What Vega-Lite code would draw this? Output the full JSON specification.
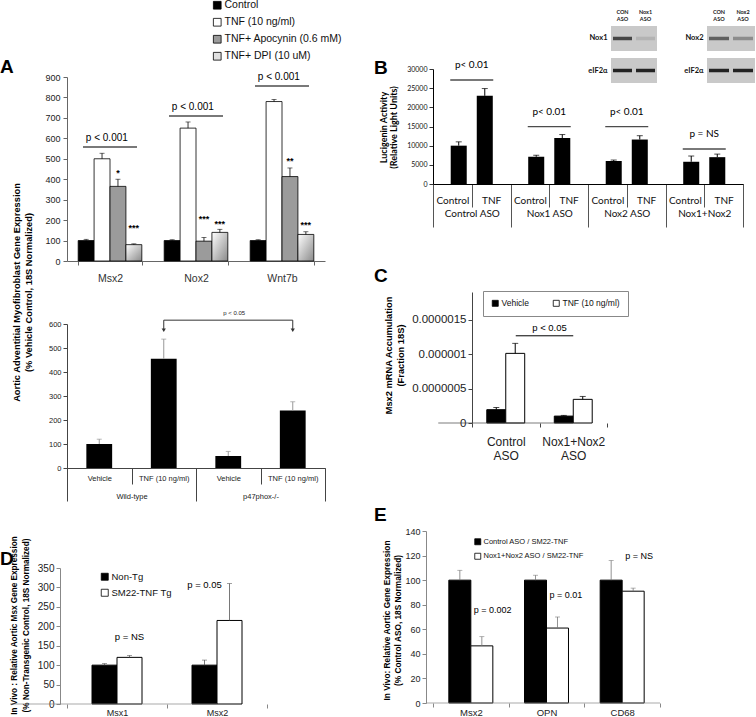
{
  "$schema": "https://vega.github.io/schema/vega-lite/v6.json",
  "padding": 0,
  "background": "white",
  "config": {
    "font": "Liberation Sans",
    "view": {"stroke": null},
    "axis": {"grid": false, "domainColor": "#666", "tickColor": "#666", "labelColor": "#222", "titleColor": "#000", "labelOverlap": false},
    "axisX": {"labelAngle": 0},
    "legend": {"padding": 0, "labelColor": "#111"},
    "title": {"color": "#000"},
    "text": {"color": "#000"}
  },
  "spacing": 31,
  "resolve": {"scale": {"x": "independent", "y": "independent", "xOffset": "independent", "color": "independent", "opacity": "independent"}, "axis": {"x": "independent", "y": "independent"}, "legend": {"color": "independent", "opacity": "independent"}},
  "hconcat": [
    {
      "resolve": {"scale": {"x": "independent", "y": "independent", "xOffset": "independent", "color": "independent", "opacity": "independent"}, "axis": {"x": "independent", "y": "independent"}, "legend": {"color": "independent", "opacity": "independent"}},
      "concat": [
        {"width": 1, "height": 2, "data": {"values": []}, "mark": "point"},
        {
          "resolve": {"scale": {"x": "independent", "y": "independent", "xOffset": "independent", "color": "independent", "opacity": "independent"}, "axis": {"x": "independent", "y": "independent"}, "legend": {"color": "independent", "opacity": "independent"}},
          "concat": [
            {
              "resolve": {"scale": {"x": "independent", "y": "independent", "xOffset": "independent", "color": "independent", "opacity": "independent"}, "axis": {"x": "independent", "y": "independent"}, "legend": {"color": "independent", "opacity": "independent"}},
              "vconcat": [
                {
                  "width": 258,
                  "height": 184,
                  "title": {"text": "A", "anchor": "start", "frame": "group", "dx": -67, "offset": -92, "fontSize": 19, "fontWeight": "bold", "baseline": "alphabetic"},
                  "data": {"values": [
                    {"gene": "Msx2", "trt": "Control", "val": 100, "err": 106},
                    {"gene": "Msx2", "trt": "TNF (10 ng/ml)", "val": 500, "err": 527},
                    {"gene": "Msx2", "trt": "TNF+ Apocynin (0.6 mM)", "val": 365, "err": 400, "sig": "*", "sy": 440},
                    {"gene": "Msx2", "trt": "TNF+ DPI (10 uM)", "val": 80, "err": 84, "sig": "***", "sy": 171},
                    {"gene": "Nox2", "trt": "Control", "val": 100, "err": 104},
                    {"gene": "Nox2", "trt": "TNF (10 ng/ml)", "val": 650, "err": 680},
                    {"gene": "Nox2", "trt": "TNF+ Apocynin (0.6 mM)", "val": 97, "err": 115, "sig": "***", "sy": 215},
                    {"gene": "Nox2", "trt": "TNF+ DPI (10 uM)", "val": 140, "err": 155, "sig": "***", "sy": 191},
                    {"gene": "Wnt7b", "trt": "Control", "val": 100, "err": 104},
                    {"gene": "Wnt7b", "trt": "TNF (10 ng/ml)", "val": 780, "err": 790},
                    {"gene": "Wnt7b", "trt": "TNF+ Apocynin (0.6 mM)", "val": 413, "err": 455, "sig": "**", "sy": 499},
                    {"gene": "Wnt7b", "trt": "TNF+ DPI (10 uM)", "val": 130, "err": 143, "sig": "***", "sy": 186}
                  ]},
                  "layer": [
                    {
                      "transform": [{"filter": "datum.trt !== 'TNF+ DPI (10 uM)'"}],
                      "mark": {"type": "bar", "stroke": "#000", "strokeWidth": 0.8},
                      "encoding": {
                        "x": {"field": "gene", "type": "nominal", "scale": {"domain": ["Msx2", "Nox2", "Wnt7b"], "paddingInner": 0.26, "paddingOuter": 0.13}, "axis": {"title": null, "labelFontSize": 10.5, "labelPadding": 8, "tickBand": "extent", "tickSize": 4, "labelColor": "#333"}},
                        "xOffset": {"field": "trt", "type": "nominal", "scale": {"domain": ["Control", "TNF (10 ng/ml)", "TNF+ Apocynin (0.6 mM)", "TNF+ DPI (10 uM)"], "paddingInner": 0, "paddingOuter": 0}},
                        "y": {"field": "val", "type": "quantitative", "scale": {"domain": [0, 900], "nice": false}, "axis": {"values": [0, 100, 200, 300, 400, 500, 600, 700, 800, 900], "tickCount": 10, "labelOverlap": false, "title": ["Aortic Adventitial Myofibroblast Gene Expression", "(% Vehicle Control, 18S Normalized)"], "titleFontSize": 9.3, "titleFontWeight": "bold", "titleX": -51, "titleY": 215, "titleAngle": -90, "titleAlign": "center", "titleBaseline": "middle", "titleLineHeight": 12, "labelFontSize": 9, "tickSize": 4, "labelPadding": 3}},
                        "color": {"field": "trt", "type": "nominal", "scale": {"domain": ["Control", "TNF (10 ng/ml)", "TNF+ Apocynin (0.6 mM)", "TNF+ DPI (10 uM)"], "range": ["#000000", "#ffffff", "#9b9b9b", "#e0e0e0"]}, "legend": {"orient": "none", "legendX": 145, "legendY": -77, "title": null, "symbolType": "square", "symbolSize": 60, "symbolStrokeColor": "#000", "symbolStrokeWidth": 0.8, "labelFontSize": 10.5, "rowPadding": 5, "labelOffset": 2, "padding": 0}}
                      }
                    },
                    {
                      "transform": [{"filter": "datum.trt === 'TNF+ DPI (10 uM)'"}],
                      "mark": {"type": "bar", "stroke": "#000", "strokeWidth": 0.8, "fill": {"gradient": "linear", "x1": 0, "y1": 0, "x2": 1, "y2": 1, "stops": [{"offset": 0, "color": "#ffffff"}, {"offset": 1, "color": "#8a8a8a"}]}},
                      "encoding": {
                        "x": {"field": "gene", "type": "nominal", "scale": {"domain": ["Msx2", "Nox2", "Wnt7b"], "paddingInner": 0.26, "paddingOuter": 0.13}},
                        "xOffset": {"field": "trt", "type": "nominal", "scale": {"domain": ["Control", "TNF (10 ng/ml)", "TNF+ Apocynin (0.6 mM)", "TNF+ DPI (10 uM)"], "paddingInner": 0, "paddingOuter": 0}},
                        "y": {"field": "val", "type": "quantitative", "scale": {"domain": [0, 900], "nice": false}}
                      }
                    },
                    {
                      "mark": {"type": "rule", "color": "#000", "strokeWidth": 0.8},
                      "encoding": {
                        "x": {"field": "gene", "type": "nominal", "scale": {"domain": ["Msx2", "Nox2", "Wnt7b"], "paddingInner": 0.26, "paddingOuter": 0.13}},
                        "xOffset": {"field": "trt", "type": "nominal", "scale": {"domain": ["Control", "TNF (10 ng/ml)", "TNF+ Apocynin (0.6 mM)", "TNF+ DPI (10 uM)"], "paddingInner": 0, "paddingOuter": 0}},
                        "y": {"field": "val", "type": "quantitative", "scale": {"domain": [0, 900], "nice": false}},
                        "y2": {"field": "err"}
                      }
                    },
                    {
                      "mark": {"type": "tick", "orient": "horizontal", "color": "#000", "thickness": 0.8, "size": 5},
                      "encoding": {
                        "x": {"field": "gene", "type": "nominal", "scale": {"domain": ["Msx2", "Nox2", "Wnt7b"], "paddingInner": 0.26, "paddingOuter": 0.13}},
                        "xOffset": {"field": "trt", "type": "nominal", "scale": {"domain": ["Control", "TNF (10 ng/ml)", "TNF+ Apocynin (0.6 mM)", "TNF+ DPI (10 uM)"], "paddingInner": 0, "paddingOuter": 0}},
                        "y": {"field": "err", "type": "quantitative", "scale": {"domain": [0, 900], "nice": false}}
                      }
                    },
                    {
                      "transform": [{"filter": "datum.sig"}],
                      "mark": {"type": "text", "fontSize": 9, "fontWeight": "bold", "baseline": "middle", "dy": 2},
                      "encoding": {
                        "x": {"field": "gene", "type": "nominal", "scale": {"domain": ["Msx2", "Nox2", "Wnt7b"], "paddingInner": 0.26, "paddingOuter": 0.13}},
                        "xOffset": {"field": "trt", "type": "nominal", "scale": {"domain": ["Control", "TNF (10 ng/ml)", "TNF+ Apocynin (0.6 mM)", "TNF+ DPI (10 uM)"], "paddingInner": 0, "paddingOuter": 0}},
                        "y": {"field": "sy", "type": "quantitative", "scale": {"domain": [0, 900], "nice": false}},
                        "text": {"field": "sig"}
                      }
                    },
                    {
                      "data": {"values": [
                        {"gene": "Msx2", "py": 558, "label": "p < 0.001"},
                        {"gene": "Nox2", "py": 709, "label": "p < 0.001"},
                        {"gene": "Wnt7b", "py": 856, "label": "p < 0.001"}
                      ]},
                      "layer": [
                        {
                          "mark": {"type": "tick", "orient": "horizontal", "size": 54, "thickness": 1.5, "color": "#000"},
                          "encoding": {
                            "x": {"field": "gene", "type": "nominal", "bandPosition": 0.45, "scale": {"domain": ["Msx2", "Nox2", "Wnt7b"], "paddingInner": 0.26, "paddingOuter": 0.13}},
                            "y": {"field": "py", "type": "quantitative", "scale": {"domain": [0, 900], "nice": false}}
                          }
                        },
                        {
                          "mark": {"type": "text", "fontSize": 10, "baseline": "middle", "dy": -9},
                          "encoding": {
                            "x": {"field": "gene", "type": "nominal", "bandPosition": 0.45, "scale": {"domain": ["Msx2", "Nox2", "Wnt7b"], "paddingInner": 0.26, "paddingOuter": 0.13}},
                            "y": {"field": "py", "type": "quantitative", "scale": {"domain": [0, 900], "nice": false}},
                            "text": {"field": "label"}
                          }
                        }
                      ]
                    }
                  ]
                },
                {
                  "width": 258,
                  "height": 144,
                  "data": {"values": [
                    {"id": "Vehicle|Wild-type", "geno": "Wild-type", "val": 100, "err": 120},
                    {"id": "TNF (10 ng/ml)|Wild-type", "geno": "Wild-type", "val": 455, "err": 537},
                    {"id": "Vehicle|p47phox-/-", "geno": "p47phox-/-", "val": 50, "err": 69},
                    {"id": "TNF (10 ng/ml)|p47phox-/-", "geno": "p47phox-/-", "val": 240, "err": 276}
                  ]},
                  "layer": [
                    {
                      "layer": [
                        {
                          "mark": {"type": "bar", "color": "#000", "width": {"band": 0.4}},
                          "encoding": {
                            "x": {"field": "id", "type": "nominal", "scale": {"domain": ["Vehicle|Wild-type", "TNF (10 ng/ml)|Wild-type", "Vehicle|p47phox-/-", "TNF (10 ng/ml)|p47phox-/-"], "paddingInner": 0, "paddingOuter": 0}, "axis": {"title": null, "orient": "bottom", "labelExpr": "split(datum.label,'|')[0]", "labelFontSize": 7.5, "tickBand": "extent", "tickSize": 16, "labelPadding": -10, "domainColor": "#444", "tickColor": "#444"}},
                            "y": {"field": "val", "type": "quantitative", "scale": {"domain": [0, 600], "nice": false}, "axis": {"values": [0, 100, 200, 300, 400, 500, 600], "tickCount": 7, "labelOverlap": false, "title": null, "labelFontSize": 7.5, "tickSize": 4, "domainColor": "#444", "tickColor": "#444"}}
                          }
                        },
                        {
                          "mark": {"type": "rule", "color": "#999", "strokeWidth": 1},
                          "encoding": {
                            "x": {"field": "id", "type": "nominal", "scale": {"domain": ["Vehicle|Wild-type", "TNF (10 ng/ml)|Wild-type", "Vehicle|p47phox-/-", "TNF (10 ng/ml)|p47phox-/-"], "paddingInner": 0, "paddingOuter": 0}},
                            "y": {"field": "val", "type": "quantitative", "scale": {"domain": [0, 600], "nice": false}},
                            "y2": {"field": "err"}
                          }
                        },
                        {
                          "mark": {"type": "tick", "orient": "horizontal", "color": "#999", "thickness": 1, "size": 5},
                          "encoding": {
                            "x": {"field": "id", "type": "nominal", "scale": {"domain": ["Vehicle|Wild-type", "TNF (10 ng/ml)|Wild-type", "Vehicle|p47phox-/-", "TNF (10 ng/ml)|p47phox-/-"], "paddingInner": 0, "paddingOuter": 0}},
                            "y": {"field": "err", "type": "quantitative", "scale": {"domain": [0, 600], "nice": false}}
                          }
                        },
                        {
                          "data": {"values": [{"a": "TNF (10 ng/ml)|Wild-type", "b": "TNF (10 ng/ml)|p47phox-/-", "mid": "Vehicle|p47phox-/-", "top": 616, "tip": 574, "label": "p < 0.05"}]},
                          "layer": [
                            {
                              "mark": {"type": "rule", "color": "#333", "strokeWidth": 1},
                              "encoding": {
                                "x": {"field": "a", "type": "nominal", "scale": {"domain": ["Vehicle|Wild-type", "TNF (10 ng/ml)|Wild-type", "Vehicle|p47phox-/-", "TNF (10 ng/ml)|p47phox-/-"], "paddingInner": 0, "paddingOuter": 0}},
                                "x2": {"field": "b"},
                                "y": {"field": "top", "type": "quantitative", "scale": {"domain": [0, 600], "nice": false}}
                              }
                            },
                            {
                              "transform": [{"fold": ["a", "b"], "as": ["end", "eid"]}],
                              "mark": {"type": "rule", "color": "#333", "strokeWidth": 1},
                              "encoding": {
                                "x": {"field": "eid", "type": "nominal", "scale": {"domain": ["Vehicle|Wild-type", "TNF (10 ng/ml)|Wild-type", "Vehicle|p47phox-/-", "TNF (10 ng/ml)|p47phox-/-"], "paddingInner": 0, "paddingOuter": 0}},
                                "y": {"field": "top", "type": "quantitative", "scale": {"domain": [0, 600], "nice": false}},
                                "y2": {"field": "tip"}
                              }
                            },
                            {
                              "transform": [{"fold": ["a", "b"], "as": ["end", "eid"]}],
                              "mark": {"type": "point", "shape": "triangle-down", "filled": true, "color": "#333", "size": 18, "opacity": 1},
                              "encoding": {
                                "x": {"field": "eid", "type": "nominal", "scale": {"domain": ["Vehicle|Wild-type", "TNF (10 ng/ml)|Wild-type", "Vehicle|p47phox-/-", "TNF (10 ng/ml)|p47phox-/-"], "paddingInner": 0, "paddingOuter": 0}},
                                "y": {"field": "tip", "type": "quantitative", "scale": {"domain": [0, 600], "nice": false}}
                              }
                            },
                            {
                              "mark": {"type": "text", "fontSize": 6, "baseline": "middle", "dy": -7, "dx": 6, "color": "#222"},
                              "encoding": {
                                "x": {"field": "mid", "type": "nominal", "scale": {"domain": ["Vehicle|Wild-type", "TNF (10 ng/ml)|Wild-type", "Vehicle|p47phox-/-", "TNF (10 ng/ml)|p47phox-/-"], "paddingInner": 0, "paddingOuter": 0}},
                                "y": {"field": "top", "type": "quantitative", "scale": {"domain": [0, 600], "nice": false}},
                                "text": {"field": "label"}
                              }
                            }
                          ]
                        }
                      ]
                    },
                    {
                      "mark": {"type": "point", "opacity": 0},
                      "encoding": {
                        "x": {"field": "geno", "type": "nominal", "scale": {"domain": ["Wild-type", "p47phox-/-"], "paddingInner": 0, "paddingOuter": 0}, "axis": {"title": null, "orient": "bottom", "domain": false, "labelFontSize": 7.5, "tickBand": "extent", "tickSize": 33, "labelPadding": -9, "tickColor": "#444"}},
                        "y": {"field": "val", "type": "quantitative", "scale": {"domain": [0, 600], "nice": false}}
                      }
                    }
                  ],
                  "resolve": {"scale": {"x": "independent"}, "axis": {"x": "independent"}}
                }
              ],
              "bounds": "flush",
              "spacing": 63
            },
            {
              "width": 200,
              "height": 136,
              "title": {"text": "D", "anchor": "start", "frame": "group", "dx": -67, "offset": -48, "fontSize": 19, "fontWeight": "bold", "baseline": "alphabetic"},
              "data": {"values": [
                {"gene": "Msx1", "grp": "Non-Tg", "val": 100, "err": 104},
                {"gene": "Msx1", "grp": "SM22-TNF Tg", "val": 120, "err": 125},
                {"gene": "Msx2", "grp": "Non-Tg", "val": 100, "err": 113},
                {"gene": "Msx2", "grp": "SM22-TNF Tg", "val": 215, "err": 310}
              ]},
              "layer": [
                {
                  "mark": {"type": "bar", "stroke": "#000", "strokeWidth": 1},
                  "encoding": {
                    "x": {"field": "gene", "type": "nominal", "scale": {"domain": ["Msx1", "Msx2"], "paddingInner": 0, "paddingOuter": 0}, "axis": {"title": null, "domain": false, "labelFontSize": 9, "tickBand": "extent", "tickSize": 4, "labelPadding": 0, "tickColor": "#888"}},
                    "xOffset": {"field": "grp", "type": "nominal", "scale": {"domain": ["Non-Tg", "SM22-TNF Tg"], "paddingInner": 0, "paddingOuter": 1}},
                    "y": {"field": "val", "type": "quantitative", "scale": {"domain": [0, 350], "nice": false}, "axis": {"values": [0, 50, 100, 150, 200, 250, 300, 350], "tickCount": 8, "labelOverlap": false, "offset": 7, "title": ["In Vivo : Relative Aortic Msx Gene Expression", "(% Non-Transgenic Control, 18S Normalized)"], "titleFontSize": 8.2, "titleFontWeight": "bold", "titleX": -46, "titleY": 57, "titleAngle": -90, "titleAlign": "center", "titleBaseline": "middle", "titleLineHeight": 12, "labelFontSize": 10, "tickSize": 4, "domainColor": "#888", "tickColor": "#888"}},
                    "color": {"field": "grp", "type": "nominal", "scale": {"domain": ["Non-Tg", "SM22-TNF Tg"], "range": ["#000000", "#ffffff"]}, "legend": {"orient": "none", "legendX": 33, "legendY": 4, "title": null, "symbolType": "square", "symbolSize": 49, "symbolStrokeColor": "#000", "symbolStrokeWidth": 0.8, "labelFontSize": 9.5, "rowPadding": 5, "labelOffset": 2, "padding": 0}}
                  }
                },
                {
                  "mark": {"type": "rule", "color": "#555", "strokeWidth": 0.8},
                  "encoding": {
                    "x": {"field": "gene", "type": "nominal", "scale": {"domain": ["Msx1", "Msx2"], "paddingInner": 0, "paddingOuter": 0}},
                    "xOffset": {"field": "grp", "type": "nominal", "scale": {"domain": ["Non-Tg", "SM22-TNF Tg"], "paddingInner": 0, "paddingOuter": 1}},
                    "y": {"field": "val", "type": "quantitative", "scale": {"domain": [0, 350], "nice": false}},
                    "y2": {"field": "err"}
                  }
                },
                {
                  "mark": {"type": "tick", "orient": "horizontal", "color": "#555", "thickness": 0.8, "size": 5},
                  "encoding": {
                    "x": {"field": "gene", "type": "nominal", "scale": {"domain": ["Msx1", "Msx2"], "paddingInner": 0, "paddingOuter": 0}},
                    "xOffset": {"field": "grp", "type": "nominal", "scale": {"domain": ["Non-Tg", "SM22-TNF Tg"], "paddingInner": 0, "paddingOuter": 1}},
                    "y": {"field": "err", "type": "quantitative", "scale": {"domain": [0, 350], "nice": false}}
                  }
                },
                {
                  "data": {"values": [{"gene": "Msx1", "base": 0}]},
                  "mark": {"type": "tick", "orient": "horizontal", "color": "#888", "thickness": 1, "size": 207, "xOffset": -3.5},
                  "encoding": {
                    "x": {"field": "gene", "type": "nominal", "bandPosition": 1, "scale": {"domain": ["Msx1", "Msx2"], "paddingInner": 0, "paddingOuter": 0}},
                    "y": {"field": "base", "type": "quantitative", "scale": {"domain": [0, 350], "nice": false}}
                  }
                },
                {
                  "data": {"values": [
                    {"gene": "Msx1", "grp": "SM22-TNF Tg", "label": "p =  NS", "ty": 172},
                    {"gene": "Msx2", "grp": "Non-Tg", "label": "p =  0.05", "ty": 306}
                  ]},
                  "mark": {"type": "text", "fontSize": 9.5, "baseline": "middle"},
                  "encoding": {
                    "x": {"field": "gene", "type": "nominal", "scale": {"domain": ["Msx1", "Msx2"], "paddingInner": 0, "paddingOuter": 0}},
                    "xOffset": {"field": "grp", "type": "nominal", "scale": {"domain": ["Non-Tg", "SM22-TNF Tg"], "paddingInner": 0, "paddingOuter": 1}},
                    "y": {"field": "ty", "type": "quantitative", "scale": {"domain": [0, 350], "nice": false}},
                    "text": {"field": "label"}
                  }
                }
              ]
            }
          ],
          "columns": 1,
          "spacing": 33
        }
      ],
      "columns": 1,
      "spacing": -28
    },
    {
      "resolve": {"scale": {"x": "independent", "y": "independent", "xOffset": "independent", "color": "independent", "opacity": "independent"}, "axis": {"x": "independent", "y": "independent"}, "legend": {"color": "independent", "opacity": "independent"}},
      "concat": [
        {
          "resolve": {"scale": {"x": "independent", "y": "independent", "xOffset": "independent", "color": "independent", "opacity": "independent"}, "axis": {"x": "independent", "y": "independent"}, "legend": {"color": "independent", "opacity": "independent"}},
          "concat": [
            {
              "resolve": {"scale": {"x": "independent", "y": "independent", "xOffset": "independent", "color": "independent", "opacity": "independent"}, "axis": {"x": "independent", "y": "independent"}, "legend": {"color": "independent", "opacity": "independent"}},
              "hconcat": [
                {"width": 128, "height": 57, "data": {"values": []}, "mark": "point"},
                {
                  "width": 46,
                  "height": 57,
                  "data": {"values": [
                    {"lane": "CON|ASO", "prot": "Nox1", "signal": 0.75},
                    {"lane": "Nox1|ASO", "prot": "Nox1", "signal": 0.12},
                    {"lane": "CON|ASO", "prot": "eIF2α", "signal": 0.95},
                    {"lane": "Nox1|ASO", "prot": "eIF2α", "signal": 0.95}
                  ]},
                  "layer": [
                    {
                      "mark": {"type": "rect", "color": "#c9c9c9"},
                      "encoding": {
                        "y": {"field": "prot", "type": "nominal", "scale": {"domain": ["Nox1", "eIF2α"], "paddingInner": 0.22, "paddingOuter": 0}, "axis": {"title": null, "domain": false, "ticks": false, "labelFont": "Lato", "labelFontWeight": "bold", "labelFontSize": 7.5, "labelPadding": 4, "labelColor": "#111"}}
                      }
                    },
                    {
                      "mark": {"type": "tick", "orient": "horizontal", "color": "#1a1a1a", "thickness": 3.5, "size": 19},
                      "encoding": {
                        "x": {"field": "lane", "type": "nominal", "scale": {"domain": ["CON|ASO", "Nox1|ASO"], "paddingInner": 0, "paddingOuter": 0}, "axis": {"orient": "top", "title": null, "domain": false, "ticks": false, "labelExpr": "split(datum.label,'|')", "labelFont": "Lato", "labelFontWeight": "bold", "labelFontSize": 5.5, "labelLineHeight": 7, "labelBaseline": "bottom", "labelPadding": 12, "labelColor": "#222"}},
                        "y": {"field": "prot", "type": "nominal", "scale": {"domain": ["Nox1", "eIF2α"], "paddingInner": 0.22, "paddingOuter": 0}},
                        "opacity": {"field": "signal", "type": "quantitative", "scale": {"domain": [0, 1], "range": [0, 1]}, "legend": null}
                      }
                    }
                  ]
                },
                {
                  "width": 48,
                  "height": 57,
                  "data": {"values": [
                    {"lane": "CON|ASO", "prot": "Nox2", "signal": 0.6},
                    {"lane": "Nox2|ASO", "prot": "Nox2", "signal": 0.35},
                    {"lane": "CON|ASO", "prot": "eIF2α", "signal": 0.95},
                    {"lane": "Nox2|ASO", "prot": "eIF2α", "signal": 0.95}
                  ]},
                  "layer": [
                    {
                      "mark": {"type": "rect", "color": "#c9c9c9"},
                      "encoding": {
                        "y": {"field": "prot", "type": "nominal", "scale": {"domain": ["Nox2", "eIF2α"], "paddingInner": 0.22, "paddingOuter": 0}, "axis": {"title": null, "domain": false, "ticks": false, "labelFont": "Lato", "labelFontWeight": "bold", "labelFontSize": 7.5, "labelPadding": 4, "labelColor": "#111"}}
                      }
                    },
                    {
                      "mark": {"type": "tick", "orient": "horizontal", "color": "#1a1a1a", "thickness": 3.5, "size": 20},
                      "encoding": {
                        "x": {"field": "lane", "type": "nominal", "scale": {"domain": ["CON|ASO", "Nox2|ASO"], "paddingInner": 0, "paddingOuter": 0}, "axis": {"orient": "top", "title": null, "domain": false, "ticks": false, "labelExpr": "split(datum.label,'|')", "labelFont": "Lato", "labelFontWeight": "bold", "labelFontSize": 5.5, "labelLineHeight": 7, "labelBaseline": "bottom", "labelPadding": 12, "labelColor": "#222"}},
                        "y": {"field": "prot", "type": "nominal", "scale": {"domain": ["Nox2", "eIF2α"], "paddingInner": 0.22, "paddingOuter": 0}},
                        "opacity": {"field": "signal", "type": "quantitative", "scale": {"domain": [0, 1], "range": [0, 1]}, "legend": null}
                      }
                    }
                  ]
                }
              ],
              "spacing": 26
            },
            {
              "width": 310,
              "height": 115,
              "title": {"text": "B", "anchor": "start", "frame": "group", "dx": -59, "offset": -33, "fontSize": 19, "fontWeight": "bold", "baseline": "alphabetic"},
              "data": {"values": [
                {"grp": "Control ASO", "trt": "Control", "cell": "Control ASO|Control", "val": 10000, "err": 11000},
                {"grp": "Control ASO", "trt": "TNF", "cell": "Control ASO|TNF", "val": 23000, "err": 24900},
                {"grp": "Nox1 ASO", "trt": "Control", "cell": "Nox1 ASO|Control", "val": 7100, "err": 7500},
                {"grp": "Nox1 ASO", "trt": "TNF", "cell": "Nox1 ASO|TNF", "val": 12000, "err": 12900},
                {"grp": "Nox2 ASO", "trt": "Control", "cell": "Nox2 ASO|Control", "val": 6000, "err": 6250},
                {"grp": "Nox2 ASO", "trt": "TNF", "cell": "Nox2 ASO|TNF", "val": 11600, "err": 12600},
                {"grp": "Nox1+Nox2", "trt": "Control", "cell": "Nox1+Nox2|Control", "val": 5800, "err": 7300},
                {"grp": "Nox1+Nox2", "trt": "TNF", "cell": "Nox1+Nox2|TNF", "val": 7000, "err": 7800}
              ]},
              "layer": [
                {
                  "layer": [
                    {
                      "mark": {"type": "bar", "color": "#000"},
                      "encoding": {
                        "x": {"field": "grp", "type": "nominal", "scale": {"domain": ["Control ASO", "Nox1 ASO", "Nox2 ASO", "Nox1+Nox2"], "paddingInner": 0, "paddingOuter": 0}, "axis": {"title": null, "orient": "bottom", "domain": false, "labelFont": "Lato", "labelFontSize": 10, "labelColor": "#111", "tickBand": "extent", "tickSize": 43, "tickColor": "#555", "labelPadding": -19}},
                        "xOffset": {"field": "trt", "type": "nominal", "scale": {"domain": ["Control", "TNF"], "paddingInner": 0.385, "paddingOuter": 0.68}},
                        "y": {"field": "val", "type": "quantitative", "scale": {"domain": [0, 30000], "nice": false}, "axis": {"values": [0, 5000, 10000, 15000, 20000, 25000, 30000], "tickCount": 7, "labelOverlap": false, "format": "d", "title": ["Lucigenin Activity", "(Relative Light Units)"], "titleFont": "Lato", "titleFontSize": 9, "titleFontWeight": "bold", "titleX": -50, "titleY": 58, "titleAngle": -90, "titleAlign": "center", "titleBaseline": "middle", "titleLineHeight": 10, "labelFont": "Lato", "labelFontSize": 7, "tickSize": 4, "domainColor": "#000", "tickColor": "#333", "labelColor": "#111"}}
                      }
                    },
                    {
                      "mark": {"type": "rule", "color": "#000", "strokeWidth": 1},
                      "encoding": {
                        "x": {"field": "grp", "type": "nominal", "scale": {"domain": ["Control ASO", "Nox1 ASO", "Nox2 ASO", "Nox1+Nox2"], "paddingInner": 0, "paddingOuter": 0}},
                        "xOffset": {"field": "trt", "type": "nominal", "scale": {"domain": ["Control", "TNF"], "paddingInner": 0.385, "paddingOuter": 0.68}},
                        "y": {"field": "val", "type": "quantitative", "scale": {"domain": [0, 30000], "nice": false}},
                        "y2": {"field": "err"}
                      }
                    },
                    {
                      "mark": {"type": "tick", "orient": "horizontal", "color": "#000", "thickness": 1, "size": 6},
                      "encoding": {
                        "x": {"field": "grp", "type": "nominal", "scale": {"domain": ["Control ASO", "Nox1 ASO", "Nox2 ASO", "Nox1+Nox2"], "paddingInner": 0, "paddingOuter": 0}},
                        "xOffset": {"field": "trt", "type": "nominal", "scale": {"domain": ["Control", "TNF"], "paddingInner": 0.385, "paddingOuter": 0.68}},
                        "y": {"field": "err", "type": "quantitative", "scale": {"domain": [0, 30000], "nice": false}}
                      }
                    },
                    {
                      "data": {"values": [
                        {"grp": "Control ASO", "py": 27130, "label": "p< 0.01"},
                        {"grp": "Nox1 ASO", "py": 14960, "label": "p< 0.01"},
                        {"grp": "Nox2 ASO", "py": 14960, "label": "p< 0.01"},
                        {"grp": "Nox1+Nox2", "py": 9130, "label": "p = NS"}
                      ]},
                      "layer": [
                        {
                          "mark": {"type": "tick", "orient": "horizontal", "size": 43, "thickness": 1.3, "color": "#000"},
                          "encoding": {
                            "x": {"field": "grp", "type": "nominal", "scale": {"domain": ["Control ASO", "Nox1 ASO", "Nox2 ASO", "Nox1+Nox2"], "paddingInner": 0, "paddingOuter": 0}},
                            "y": {"field": "py", "type": "quantitative", "scale": {"domain": [0, 30000], "nice": false}}
                          }
                        },
                        {
                          "mark": {"type": "text", "font": "Lato", "fontSize": 10, "baseline": "middle", "dy": -15},
                          "encoding": {
                            "x": {"field": "grp", "type": "nominal", "scale": {"domain": ["Control ASO", "Nox1 ASO", "Nox2 ASO", "Nox1+Nox2"], "paddingInner": 0, "paddingOuter": 0}},
                            "y": {"field": "py", "type": "quantitative", "scale": {"domain": [0, 30000], "nice": false}},
                            "text": {"field": "label"}
                          }
                        }
                      ]
                    }
                  ]
                },
                {
                  "mark": {"type": "point", "opacity": 0},
                  "encoding": {
                    "x": {"field": "cell", "type": "nominal", "scale": {"domain": ["Control ASO|Control", "Control ASO|TNF", "Nox1 ASO|Control", "Nox1 ASO|TNF", "Nox2 ASO|Control", "Nox2 ASO|TNF", "Nox1+Nox2|Control", "Nox1+Nox2|TNF"], "paddingInner": 0, "paddingOuter": 0}, "axis": {"title": null, "orient": "bottom", "labelExpr": "split(datum.label,'|')[1]", "labelFont": "Lato", "labelFontSize": 10, "labelColor": "#111", "tickBand": "extent", "tickSize": 23, "labelPadding": -12, "domainColor": "#000", "tickColor": "#555"}},
                    "y": {"field": "val", "type": "quantitative", "scale": {"domain": [0, 30000], "nice": false}}
                  }
                }
              ],
              "resolve": {"scale": {"x": "independent"}, "axis": {"x": "independent"}}
            }
          ],
          "columns": 1,
          "align": "none",
          "spacing": -24
        },
        {
          "resolve": {"scale": {"x": "independent", "y": "independent", "xOffset": "independent", "color": "independent", "opacity": "independent"}, "axis": {"x": "independent", "y": "independent"}, "legend": {"color": "independent", "opacity": "independent"}},
          "concat": [
            {
              "width": 174,
              "height": 131,
              "title": {"text": "C", "anchor": "start", "frame": "group", "dx": -59, "offset": -10, "fontSize": 19, "fontWeight": "bold", "baseline": "alphabetic"},
              "data": {"values": [
                {"grp": "Control ASO", "trt": "Vehicle", "val": 1.93e-7, "err": 2.25e-7},
                {"grp": "Control ASO", "trt": "TNF (10 ng/ml)", "val": 1.01e-6, "err": 1.155e-6},
                {"grp": "Nox1+Nox2 ASO", "trt": "Vehicle", "val": 1.0e-7, "err": 1.1e-7},
                {"grp": "Nox1+Nox2 ASO", "trt": "TNF (10 ng/ml)", "val": 3.43e-7, "err": 3.85e-7}
              ]},
              "layer": [
                {
                  "mark": {"type": "bar", "stroke": "#000", "strokeWidth": 1},
                  "encoding": {
                    "x": {"field": "grp", "type": "nominal", "scale": {"domain": ["Control ASO", "Nox1+Nox2 ASO"], "paddingInner": 0, "paddingOuter": 0.2889, "align": 1}, "axis": {"title": null, "domain": false, "labelExpr": "split(datum.label,' ')", "labelFontSize": 12, "labelLineHeight": 14, "tickBand": "extent", "tickSize": 4, "labelPadding": 9, "tickColor": "#444"}},
                    "xOffset": {"field": "trt", "type": "nominal", "scale": {"domain": ["Vehicle", "TNF (10 ng/ml)"], "paddingInner": 0, "paddingOuter": 0.78}},
                    "y": {"field": "val", "type": "quantitative", "scale": {"domain": [0, 1.9e-6], "nice": false, "zero": true}, "axis": {"values": [0, 5e-7, 1e-6, 1.5e-6], "tickCount": 4, "labelOverlap": false, "offset": -39, "format": ".7~f", "title": ["Msx2 mRNA Accumulation", "(Fraction 18S)"], "titleFontSize": 9.3, "titleFontWeight": "bold", "titleX": -84, "titleY": 63, "titleAngle": -90, "titleAlign": "center", "titleBaseline": "middle", "titleLineHeight": 12.5, "labelFontSize": 11.5, "tickSize": 4, "domainColor": "#444", "tickColor": "#444"}},
                    "color": {"field": "trt", "type": "nominal", "scale": {"domain": ["Vehicle", "TNF (10 ng/ml)"], "range": ["#000000", "#ffffff"]}, "legend": {"orient": "none", "direction": "horizontal", "legendX": 50, "legendY": -1, "title": null, "symbolType": "square", "symbolSize": 36, "symbolStrokeColor": "#000", "symbolStrokeWidth": 0.8, "labelFontSize": 8.5, "strokeColor": "#888", "padding": 8, "columnPadding": 22, "labelOffset": 2}}
                  }
                },
                {
                  "mark": {"type": "rule", "color": "#000", "strokeWidth": 1},
                  "encoding": {
                    "x": {"field": "grp", "type": "nominal", "scale": {"domain": ["Control ASO", "Nox1+Nox2 ASO"], "paddingInner": 0, "paddingOuter": 0.2889, "align": 1}},
                    "xOffset": {"field": "trt", "type": "nominal", "scale": {"domain": ["Vehicle", "TNF (10 ng/ml)"], "paddingInner": 0, "paddingOuter": 0.78}},
                    "y": {"field": "val", "type": "quantitative", "scale": {"domain": [0, 1.9e-6], "nice": false}},
                    "y2": {"field": "err"}
                  }
                },
                {
                  "mark": {"type": "tick", "orient": "horizontal", "color": "#000", "thickness": 1, "size": 6},
                  "encoding": {
                    "x": {"field": "grp", "type": "nominal", "scale": {"domain": ["Control ASO", "Nox1+Nox2 ASO"], "paddingInner": 0, "paddingOuter": 0.2889, "align": 1}},
                    "xOffset": {"field": "trt", "type": "nominal", "scale": {"domain": ["Vehicle", "TNF (10 ng/ml)"], "paddingInner": 0, "paddingOuter": 0.78}},
                    "y": {"field": "err", "type": "quantitative", "scale": {"domain": [0, 1.9e-6], "nice": false}}
                  }
                },
                {
                  "data": {"values": [{"grp": "Control ASO", "base": 0}]},
                  "mark": {"type": "tick", "orient": "horizontal", "color": "#444", "thickness": 1, "size": 135},
                  "encoding": {
                    "x": {"field": "grp", "type": "nominal", "bandPosition": 1, "scale": {"domain": ["Control ASO", "Nox1+Nox2 ASO"], "paddingInner": 0, "paddingOuter": 0.2889, "align": 1}},
                    "y": {"field": "base", "type": "quantitative", "scale": {"domain": [0, 1.9e-6], "nice": false}}
                  }
                },
                {
                  "data": {"values": [{"from": "Control ASO", "to": "Nox1+Nox2 ASO", "py": 1.265e-6, "label": "p < 0.05"}]},
                  "layer": [
                    {
                      "mark": {"type": "rule", "color": "#000", "strokeWidth": 1, "xOffset": 10},
                      "encoding": {
                        "x": {"field": "from", "type": "nominal", "scale": {"domain": ["Control ASO", "Nox1+Nox2 ASO"], "paddingInner": 0, "paddingOuter": 0.2889, "align": 1}},
                        "x2": {"field": "to"},
                        "y": {"field": "py", "type": "quantitative", "scale": {"domain": [0, 1.9e-6], "nice": false}}
                      }
                    },
                    {
                      "mark": {"type": "text", "fontSize": 9.5, "baseline": "middle", "dy": -8, "dx": 10},
                      "encoding": {
                        "x": {"field": "from", "type": "nominal", "bandPosition": 1, "scale": {"domain": ["Control ASO", "Nox1+Nox2 ASO"], "paddingInner": 0, "paddingOuter": 0.2889, "align": 1}},
                        "y": {"field": "py", "type": "quantitative", "scale": {"domain": [0, 1.9e-6], "nice": false}},
                        "text": {"field": "label"}
                      }
                    }
                  ]
                }
              ]
            },
            {
              "width": 227,
              "height": 172,
              "title": {"text": "E", "anchor": "start", "frame": "group", "dx": -59, "offset": -12.5, "fontSize": 19, "fontWeight": "bold", "baseline": "alphabetic"},
              "data": {"values": [
                {"gene": "Msx2", "grp": "Control ASO / SM22-TNF", "val": 100, "err": 108},
                {"gene": "Msx2", "grp": "Nox1+Nox2 ASO / SM22-TNF", "val": 46.5, "err": 54},
                {"gene": "OPN", "grp": "Control ASO / SM22-TNF", "val": 100, "err": 104},
                {"gene": "OPN", "grp": "Nox1+Nox2 ASO / SM22-TNF", "val": 61, "err": 70},
                {"gene": "CD68", "grp": "Control ASO / SM22-TNF", "val": 100, "err": 116},
                {"gene": "CD68", "grp": "Nox1+Nox2 ASO / SM22-TNF", "val": 91, "err": 93.5}
              ]},
              "layer": [
                {
                  "mark": {"type": "bar", "stroke": "#000", "strokeWidth": 1},
                  "encoding": {
                    "x": {"field": "gene", "type": "nominal", "scale": {"domain": ["Msx2", "OPN", "CD68"], "paddingInner": 0, "paddingOuter": 0}, "axis": {"title": null, "domain": false, "labelFontSize": 9.5, "tickBand": "extent", "tickSize": 4, "labelPadding": 0, "tickColor": "#888"}},
                    "xOffset": {"field": "grp", "type": "nominal", "scale": {"domain": ["Control ASO / SM22-TNF", "Nox1+Nox2 ASO / SM22-TNF"], "paddingInner": 0, "paddingOuter": 0.72}},
                    "y": {"field": "val", "type": "quantitative", "scale": {"domain": [0, 140], "nice": false}, "axis": {"values": [0, 20, 40, 60, 80, 100, 120, 140], "tickCount": 8, "labelOverlap": false, "offset": 7, "title": ["In Vivo: Relative Aortic Gene Expression", "(% Control ASO, 18S Normalized)"], "titleFontSize": 8.3, "titleFontWeight": "bold", "titleX": -39, "titleY": 89, "titleAngle": -90, "titleAlign": "center", "titleBaseline": "middle", "titleLineHeight": 11, "labelFontSize": 9, "tickSize": 4, "domainColor": "#888", "tickColor": "#888"}},
                    "color": {"field": "grp", "type": "nominal", "scale": {"domain": ["Control ASO / SM22-TNF", "Nox1+Nox2 ASO / SM22-TNF"], "range": ["#000000", "#ffffff"]}, "legend": {"orient": "none", "legendX": 41, "legendY": 7, "title": null, "symbolType": "square", "symbolSize": 36, "symbolStrokeColor": "#000", "symbolStrokeWidth": 0.8, "labelFontSize": 7.5, "rowPadding": 4.5, "labelOffset": 2, "padding": 0}}
                  }
                },
                {
                  "mark": {"type": "rule", "color": "#777", "strokeWidth": 0.8},
                  "encoding": {
                    "x": {"field": "gene", "type": "nominal", "scale": {"domain": ["Msx2", "OPN", "CD68"], "paddingInner": 0, "paddingOuter": 0}},
                    "xOffset": {"field": "grp", "type": "nominal", "scale": {"domain": ["Control ASO / SM22-TNF", "Nox1+Nox2 ASO / SM22-TNF"], "paddingInner": 0, "paddingOuter": 0.72}},
                    "y": {"field": "val", "type": "quantitative", "scale": {"domain": [0, 140], "nice": false}},
                    "y2": {"field": "err"}
                  }
                },
                {
                  "mark": {"type": "tick", "orient": "horizontal", "color": "#777", "thickness": 0.8, "size": 5},
                  "encoding": {
                    "x": {"field": "gene", "type": "nominal", "scale": {"domain": ["Msx2", "OPN", "CD68"], "paddingInner": 0, "paddingOuter": 0}},
                    "xOffset": {"field": "grp", "type": "nominal", "scale": {"domain": ["Control ASO / SM22-TNF", "Nox1+Nox2 ASO / SM22-TNF"], "paddingInner": 0, "paddingOuter": 0.72}},
                    "y": {"field": "err", "type": "quantitative", "scale": {"domain": [0, 140], "nice": false}}
                  }
                },
                {
                  "data": {"values": [{"gene": "OPN", "base": 0}]},
                  "mark": {"type": "tick", "orient": "horizontal", "color": "#888", "thickness": 1, "size": 234, "xOffset": -3.5},
                  "encoding": {
                    "x": {"field": "gene", "type": "nominal", "scale": {"domain": ["Msx2", "OPN", "CD68"], "paddingInner": 0, "paddingOuter": 0}},
                    "y": {"field": "base", "type": "quantitative", "scale": {"domain": [0, 140], "nice": false}}
                  }
                },
                {
                  "data": {"values": [
                    {"gene": "Msx2", "label": "p =  0.002", "ty": 75.7},
                    {"gene": "OPN", "label": "p =  0.01", "ty": 88},
                    {"gene": "CD68", "label": "p =  NS", "ty": 119.8}
                  ]},
                  "mark": {"type": "text", "fontSize": 9, "baseline": "middle", "align": "left", "dx": 3},
                  "encoding": {
                    "x": {"field": "gene", "type": "nominal", "scale": {"domain": ["Msx2", "OPN", "CD68"], "paddingInner": 0, "paddingOuter": 0}},
                    "y": {"field": "ty", "type": "quantitative", "scale": {"domain": [0, 140], "nice": false}},
                    "text": {"field": "label"}
                  }
                }
              ]
            }
          ],
          "columns": 1,
          "spacing": 44
        }
      ],
      "columns": 1,
      "spacing": 38
    }
  ]
}
